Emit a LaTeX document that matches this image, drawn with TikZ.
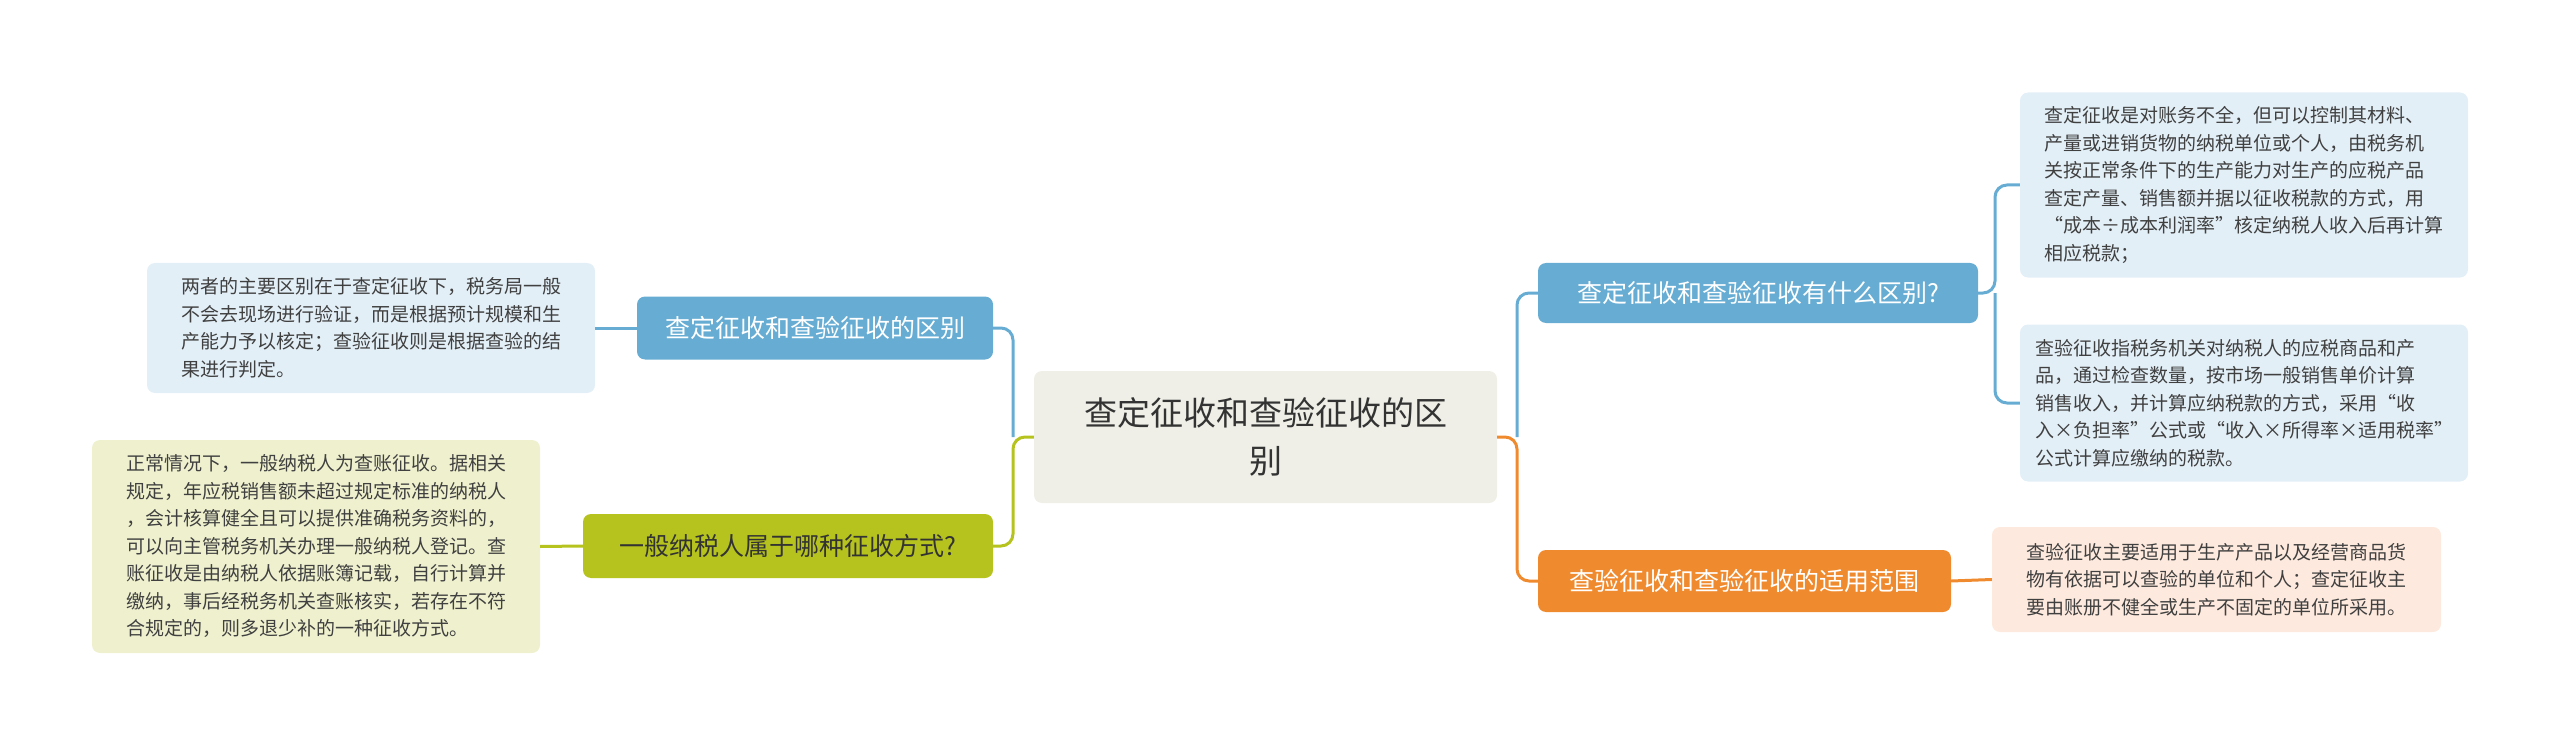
\documentclass[tikz,border=0pt]{standalone}
\usepackage{fontspec}
\setmainfont{Noto Sans CJK SC}
\begin{document}
\begin{tikzpicture}[x=1pt,y=-1pt,
  box/.style={rounded corners=8pt,inner sep=0pt,align=left},
  leaf/.style={box,font=\fontsize{19}{27.5}\selectfont,text=black!75},
  br/.style={box,font=\fontsize{25}{30}\selectfont,align=center},
  ln/.style={line width=3pt,rounded corners=12pt}]
\definecolor{cb}{HTML}{67ADD3}\definecolor{lb}{HTML}{E3EFF7}
\definecolor{co}{HTML}{F08A2E}\definecolor{lo}{HTML}{FDE9DD}
\definecolor{cg}{HTML}{B6C31E}\definecolor{lg}{HTML}{EFF1CE}
\definecolor{cc}{HTML}{EFEFE7}
\useasboundingbox (0,0) rectangle (2560,746);
% center
\node[box,fill=cc,minimum width=463,minimum height=132,font=\fontsize{33}{48}\selectfont,align=center,text=black!80] (c) at (1265.5,437) {查定征收和查验征收的区\\别};
% branches
\node[br,fill=cb,text=white,minimum width=440,minimum height=60] (r1) at (1758,293) {查定征收和查验征收有什么区别?};
\node[br,fill=co,text=white,minimum width=413,minimum height=62] (r2) at (1744.5,581) {查验征收和查验征收的适用范围};
\node[br,fill=cb,text=white,minimum width=356,minimum height=63] (l1) at (815,328) {查定征收和查验征收的区别};
\node[br,fill=cg,text=black!80,minimum width=410,minimum height=64] (l2) at (788,546) {一般纳税人属于哪种征收方式?};
% leaves
\node[leaf,fill=lb,minimum width=448,minimum height=185] (a1) at (2244,185) {查定征收是对账务不全，但可以控制其材料、\\产量或进销货物的纳税单位或个人，由税务机\\关按正常条件下的生产能力对生产的应税产品\\查定产量、销售额并据以征收税款的方式，用\\“成本÷成本利润率”核定纳税人收入后再计算\\相应税款；};
\node[leaf,fill=lb,minimum width=448,minimum height=157] (a2) at (2244,403) {查验征收指税务机关对纳税人的应税商品和产\\品，通过检查数量，按市场一般销售单价计算\\销售收入，并计算应纳税款的方式，采用“收\\入×负担率”公式或“收入×所得率×适用税率”\\公式计算应缴纳的税款。};
\node[leaf,fill=lo,minimum width=449,minimum height=105] (a3) at (2216.5,579.5) {查验征收主要适用于生产产品以及经营商品货\\物有依据可以查验的单位和个人；查定征收主\\要由账册不健全或生产不固定的单位所采用。};
\node[leaf,fill=lb,minimum width=448,minimum height=130] (b1) at (371,328) {两者的主要区别在于查定征收下，税务局一般\\不会去现场进行验证，而是根据预计规模和生\\产能力予以核定；查验征收则是根据查验的结\\果进行判定。};
\node[leaf,fill=lg,minimum width=448,minimum height=213] (b2) at (316,546.5) {正常情况下，一般纳税人为查账征收。据相关\\规定，年应税销售额未超过规定标准的纳税人\\，会计核算健全且可以提供准确税务资料的，\\可以向主管税务机关办理一般纳税人登记。查\\账征收是由纳税人依据账簿记载，自行计算并\\缴纳，事后经税务机关查账核实，若存在不符\\合规定的，则多退少补的一种征收方式。};
% connectors
\coordinate (jr) at (1517,437);\coordinate (jl) at (1013,437);\coordinate (jr1) at (1995,293);
\draw[ln,co] (c.east) -- (jr) |- (r2.west);
\draw[ln,cb] (jr) |- (r1.west);
\draw[ln,cg] (c.west) -- (jl) |- (l2.east);
\draw[ln,cb] (jl) |- (l1.east);
\draw[ln,cb] (r1.east) -- (jr1) |- (a1.west);
\draw[ln,cb] (jr1) |- (a2.west);
\draw[ln,co] (r2.east) -- (a3.west);
\draw[ln,cb] (l1.west) -- (b1.east);
\draw[ln,cg] (l2.west) -- (b2.east);
\end{tikzpicture}
\end{document}
